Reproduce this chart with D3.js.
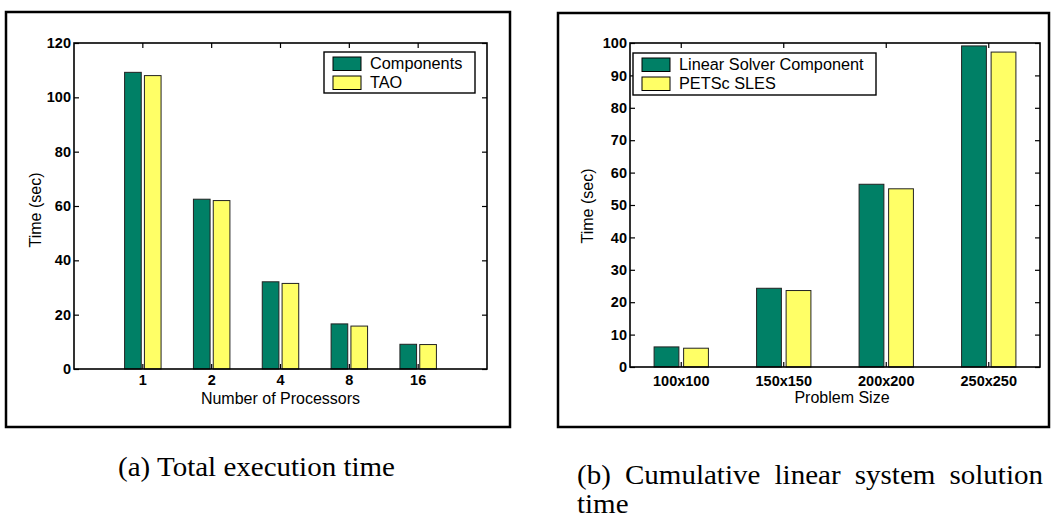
<!DOCTYPE html>
<html>
<head>
<meta charset="utf-8">
<script src="https://cdn.jsdelivr.net/npm/d3@7"></script>
<style>
  body { margin: 0; background: #fff; }
  svg { display: block; }
</style>
</head>
<body>
<svg id="chart" width="1051" height="519"></svg>
<script>
// chart (a)
var procCats = ["1", "2", "4", "8", "16"];
var componentsTime = [109.2, 62.5, 32.1, 16.6, 9.1];
var taoTime = [108.0, 62.0, 31.5, 15.8, 9.0];
var timeTicksA = [0, 20, 40, 60, 80, 100, 120];

// chart (b)
var sizeCats = ["100x100", "150x150", "200x200", "250x250"];
var solverTime = [6.2, 24.3, 56.4, 99.1];
var slesTime = [5.8, 23.6, 55.0, 97.2];
var timeTicksB = [0, 10, 20, 30, 40, 50, 60, 70, 80, 90, 100];

var green = "#008066";
var yellow = "#ffff66";
var sans = "'Liberation Sans', Arial, sans-serif";
var serif = "'Liberation Serif', 'Times New Roman', serif";

var svg = d3.select("#chart");

function drawPanel(o) {
    // outer frame
    svg.append("rect")
        .attr("x", o.frame[0]).attr("y", o.frame[1])
        .attr("width", o.frame[2]).attr("height", o.frame[3])
        .attr("fill", "none").attr("stroke", "#000").attr("stroke-width", 2.5);

    var left = o.plot[0], top = o.plot[1], right = o.plot[2], bottom = o.plot[3];

    var x = d3.scaleBand()
        .domain(o.cats)
        .range([left, right])
        .paddingInner(0)
        .paddingOuter(o.outer);

    var y = d3.scaleLinear()
        .domain([0, o.ymax])
        .range([bottom, top]);

    var groupW = x.step() * 0.53;
    var xs = d3.scaleBand()
        .domain([0, 1])
        .range([-groupW / 2, groupW / 2])
        .paddingInner(0.16);

    var rows = o.cats.map(function(c, i) {
        return {cat: c, vals: [o.s1[i], o.s2[i]]};
    });

    var g = svg.append("g");

    // bars
    g.selectAll(".grp")
        .data(rows)
        .enter().append("g")
        .attr("transform", function(d) {
            return "translate(" + (x(d.cat) + x.bandwidth() / 2) + ",0)";
        })
        .selectAll("rect")
        .data(function(d) { return d.vals; })
        .enter().append("rect")
        .attr("x", function(d, i) { return xs(i); })
        .attr("width", xs.bandwidth())
        .attr("y", function(d) { return y(d); })
        .attr("height", function(d) { return y(0) - y(d); })
        .attr("fill", function(d, i) { return i == 0 ? green : yellow; })
        .attr("stroke", "#222")
        .attr("stroke-width", 1);

    // axes, ticks point inward like the original
    var yl = g.append("g")
        .attr("transform", "translate(" + left + ",0)")
        .call(d3.axisLeft(y).tickValues(o.yticks).tickSize(-5).tickSizeOuter(0).tickPadding(3));
    var yr = g.append("g")
        .attr("transform", "translate(" + right + ",0)")
        .call(d3.axisRight(y).tickValues(o.yticks).tickSize(-5).tickSizeOuter(0).tickFormat(""));
    var xb = g.append("g")
        .attr("transform", "translate(0," + bottom + ")")
        .call(d3.axisBottom(x).tickSize(-5).tickSizeOuter(0).tickPadding(o.xpad));
    var xt = g.append("g")
        .attr("transform", "translate(0," + top + ")")
        .call(d3.axisTop(x).tickSize(-5).tickSizeOuter(0).tickFormat(""));

    [yl, yr, xb, xt].forEach(function(a) {
        a.select(".domain").remove();
        a.selectAll("line").attr("stroke", "#000").attr("stroke-width", 1.2);
        a.selectAll("text")
            .attr("fill", "#000")
            .style("font-family", sans)
            .style("font-size", "14.5px")
            .style("font-weight", "bold");
    });

    // plot box
    g.append("rect")
        .attr("x", left).attr("y", top)
        .attr("width", right - left).attr("height", bottom - top)
        .attr("fill", "none").attr("stroke", "#000").attr("stroke-width", 1.6);

    // axis titles
    g.append("text")
        .attr("x", (left + right) / 2 + o.xlabelShift)
        .attr("y", o.xlabelY)
        .attr("text-anchor", "middle")
        .style("font-family", sans)
        .style("font-size", "16px")
        .text(o.xlabel);

    g.append("text")
        .attr("transform", "translate(" + o.ylabelPos[0] + "," + o.ylabelPos[1] + ") rotate(-90)")
        .attr("text-anchor", "middle")
        .style("font-family", sans)
        .style("font-size", "16px")
        .text("Time (sec)");

    // legend
    var L = o.legend;
    g.append("rect")
        .attr("x", L.x).attr("y", L.y).attr("width", L.w).attr("height", L.h)
        .attr("fill", "#fff").attr("stroke", "#000").attr("stroke-width", 1.4);
    o.names.forEach(function(n, i) {
        g.append("rect")
            .attr("x", L.x + 9).attr("y", L.y + 5 + i * 19)
            .attr("width", 28).attr("height", 13.5)
            .attr("fill", i == 0 ? green : yellow)
            .attr("stroke", "#000").attr("stroke-width", 1);
        g.append("text")
            .attr("x", L.x + 46).attr("y", L.y + 17 + i * 19)
            .style("font-family", sans)
            .style("font-size", "16.3px")
            .text(n);
    });
}

drawPanel({
    frame: [6, 12, 504, 415],
    plot: [74, 43, 487, 369],
    cats: procCats, s1: componentsTime, s2: taoTime,
    outer: 0.5, ymax: 120, yticks: timeTicksA,
    xpad: 6, xlabel: "Number of Processors", xlabelY: 404, xlabelShift: 0,
    ylabelPos: [41, 210],
    names: ["Components", "TAO"],
    legend: {x: 324, y: 52, w: 151, h: 41}
});

drawPanel({
    frame: [558, 13, 491, 414],
    plot: [630, 43, 1040, 367],
    cats: sizeCats, s1: solverTime, s2: slesTime,
    outer: 0, ymax: 100, yticks: timeTicksB,
    xpad: 9, xlabel: "Problem Size", xlabelY: 403, xlabelShift: 7,
    ylabelPos: [593, 206],
    names: ["Linear Solver Component", "PETSc SLES"],
    legend: {x: 633, y: 53, w: 243, h: 42}
});

// captions (the original is a bit condensed horizontally)
var capSize = "28px";
var capA = svg.append("text")
    .attr("x", 118).attr("y", 476)
    .style("font-family", serif)
    .style("font-size", capSize)
    .text("(a) Total execution time");
var natA = capA.node().getComputedTextLength();
var sx = 277 / natA;
capA.attr("textLength", 277).attr("lengthAdjust", "spacingAndGlyphs");

var wordsB = ["(b)", "Cumulative", "linear", "system", "solution"];
var capB = svg.append("g").attr("transform", "translate(577,484) scale(" + sx + ",1)");
var wordEls = wordsB.map(function(w) {
    return capB.append("text")
        .style("font-family", serif)
        .style("font-size", capSize)
        .text(w);
});
var widths = wordEls.map(function(t) { return t.node().getComputedTextLength(); });
var lineW = (1043 - 577) / sx;
var gap = (lineW - d3.sum(widths)) / (wordsB.length - 1);
var cx = 0;
wordEls.forEach(function(t, i) {
    t.attr("x", cx);
    cx += widths[i] + gap;
});
capB.append("text")
    .attr("x", 0).attr("y", 29)
    .style("font-family", serif)
    .style("font-size", capSize)
    .text("time");
</script>
</body>
</html>
